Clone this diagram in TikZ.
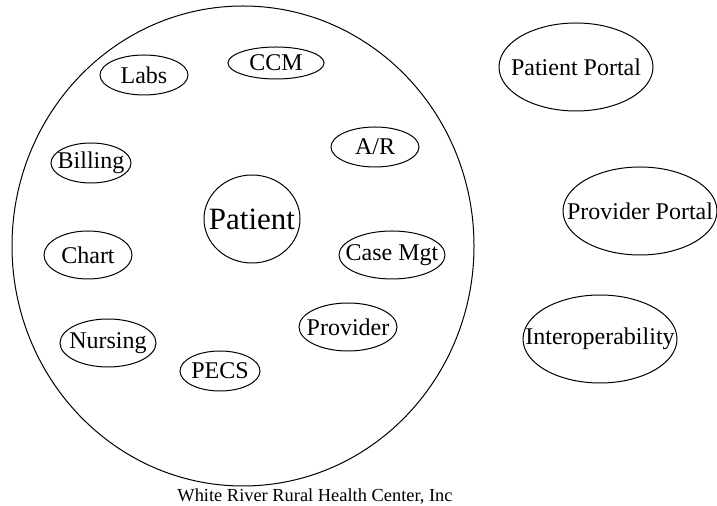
\documentclass[tikz,border=0pt]{standalone}
\usepackage{fontspec}
\setmainfont{Liberation Serif}
\usepackage{tikz}
\tikzstyle{pixelGrid} = [x = 0.5pt, y = -0.5pt]
\tikzstyle{moduleLine} = [color=black, line width=0.5pt]
\tikzstyle{moduleText} = [inner sep=0pt, font=\fontsize{12}{14}\selectfont]
\tikzstyle{patientText} = [inner sep=0pt, font=\fontsize{15.5}{18}\selectfont]
\tikzstyle{captionText} = [inner sep=0pt, font=\fontsize{9.2}{11}\selectfont]
\newcommand{\module}[6]{\node [moduleText] (#1) at (#2,#3) {#6}; \draw [moduleLine] (#1.center) ellipse [x radius=#4, y radius=#5];}
\newcommand{\portal}[4]{\module{#1}{#2}{#3}{77}{44}{#4}}

\begin{document}
\begin{tikzpicture}[pixelGrid]
          \useasboundingbox (0,0) rectangle (717,506);
          \coordinate (clinicCenter) at (243,246);
          \draw [moduleLine] (clinicCenter) ellipse [x radius=231, y radius=240];

          \node [patientText] (patient) at (252,219) {Patient};
          \draw [moduleLine] (patient.center) ellipse [x radius=48, y radius=44];

          \module{labs}{144}{75}{44}{20}{Labs}
          \module{ccm}{276}{63}{48}{16}{CCM}
          \module{ar}{375}{147}{44}{20}{A/R}
          \module{billing}{91}{163}{40}{20}{Billing}
          \module{chart}{88}{255}{44}{24}{Chart}
          \module{caseMgt}{392}{255}{53}{24}{Case Mgt}
          \module{provider}{348}{327}{49}{24}{Provider}
          \module{nursing}{108}{343}{48}{24}{Nursing}
          \module{pecs}{220}{371}{40}{20}{PECS}

          \portal{patientPortal}{576}{67}{Patient Portal}
          \portal{providerPortal}{640}{211}{Provider Portal}
          \portal{interop}{600}{339}{Interoperability}

          \node [captionText] (caption) at (315,497) {White River Rural Health Center, Inc};
        \end{tikzpicture}
\end{document}
